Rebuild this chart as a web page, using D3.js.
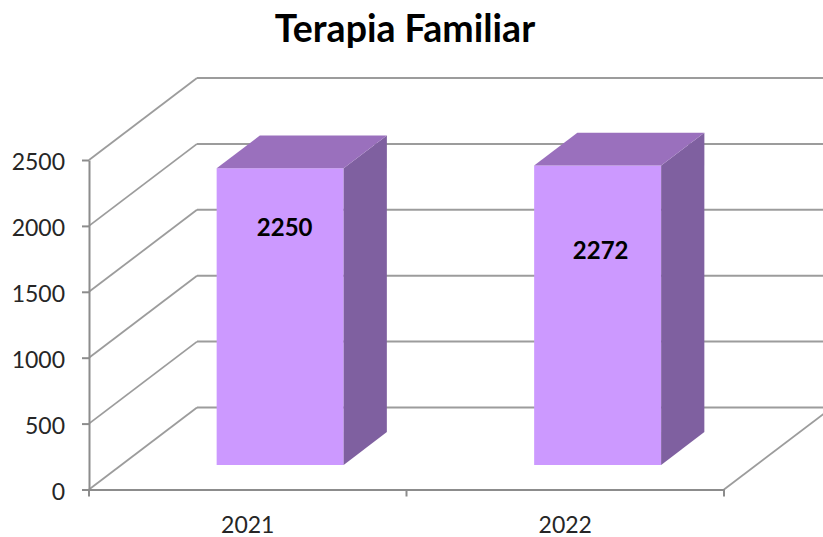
<!DOCTYPE html>
<html>
<head>
<meta charset="utf-8">
<title>Terapia Familiar</title>
<script src="https://cdn.jsdelivr.net/npm/d3@7"></script>
<style>
	body { margin: 0; background: #fff; }
	svg { display: block; font-family: Lato, sans-serif; }
</style>
</head>
<body>
<script>
// chart data
var chartTitle = "Terapia Familiar";
var years = ["2021", "2022"];
var values = [2250, 2272];
var yTicks = [0, 500, 1000, 1500, 2000, 2500];

// doc dimensions
var width = 823;
var height = 537;

// plot dimensions, front plane of the 3D box
var left = 89;
var right = 724;
var bottom = 489.5;
var top3d = 160;

// how far the back plane is shifted from the front plane
var depthX = 108;
var depthY = -82;

// bars sit in the middle of the floor depth
var barDepthStart = 0.3;
var barDepthEnd = 0.7;

// colors
var gridColor = "#9c9c9c";
var axisColor = "#8c8c8c";
var frontColor = "#cc99ff";
var sideColor = "#7f60a0";
var topColor = "#9a70bd";

var x = d3.scaleBand()
	.domain(years)
	.range([left, right])
	.paddingInner(0.6)
	.paddingOuter(0.3);

var xCategory = d3.scaleBand()
	.domain(years)
	.range([left, right]);

var y = d3.scaleLinear()
	.domain([0, 2500])
	.range([bottom, top3d]);

var svg = d3.select("body").append("svg")
	.attr("width", width)
	.attr("height", height)
	.attr("viewBox", "0 0 " + width + " " + height);

// title
svg.append("text")
	.attr("x", 405)
	.attr("y", 42)
	.attr("text-anchor", "middle")
	.attr("font-size", 37.5)
	.attr("font-weight", 700)
	.attr("fill", "#000")
	.text(chartTitle);

// back wall gridlines
svg.selectAll("line.back")
	.data(yTicks)
	.enter()
	.append("line")
	.attr("class", "back")
	.attr("x1", left + depthX)
	.attr("x2", right + depthX)
	.attr("y1", function(d) {return y(d) + depthY;})
	.attr("y2", function(d) {return y(d) + depthY;})
	.attr("stroke", gridColor)
	.attr("stroke-width", 2);

// side wall gridlines
svg.selectAll("line.side")
	.data(yTicks)
	.enter()
	.append("line")
	.attr("class", "side")
	.attr("x1", left)
	.attr("x2", left + depthX)
	.attr("y1", function(d) {return y(d);})
	.attr("y2", function(d) {return y(d) + depthY;})
	.attr("stroke", gridColor)
	.attr("stroke-width", 1.8);

// right edge of the floor
svg.append("line")
	.attr("x1", right)
	.attr("x2", right + depthX)
	.attr("y1", y(0))
	.attr("y2", y(0) + depthY)
	.attr("stroke", gridColor)
	.attr("stroke-width", 1.8);

// value axis
var yAxis = svg.append("g")
	.attr("transform", "translate(" + left + ",0)")
	.call(d3.axisLeft(y).tickValues(yTicks).tickFormat(d3.format("d")).tickSize(7).tickSizeOuter(0).tickPadding(17));

// category axis, labels only
var xAxis = svg.append("g")
	.attr("transform", "translate(0," + bottom + ")")
	.call(d3.axisBottom(xCategory).tickSize(0).tickPadding(27));

yAxis.selectAll("text").attr("font-family", "Lato").attr("font-size", 23).attr("fill", "#262626").attr("dy", "0.42em");
xAxis.selectAll("text").attr("font-family", "Lato").attr("font-size", 23).attr("fill", "#262626");
yAxis.selectAll("line, path").attr("stroke", axisColor).attr("stroke-width", 2);
xAxis.selectAll("line").remove();
xAxis.select("path").attr("stroke", axisColor).attr("stroke-width", 2);

// ticks at the edges of the categories
var edges = [left].concat(years.map(function(d) {return xCategory(d) + xCategory.bandwidth();}));
svg.selectAll("line.edge")
	.data(edges)
	.enter()
	.append("line")
	.attr("class", "edge")
	.attr("x1", function(d) {return d;})
	.attr("x2", function(d) {return d;})
	.attr("y1", bottom)
	.attr("y2", bottom + 7)
	.attr("stroke", axisColor)
	.attr("stroke-width", 2);

// returns the corner of a bar at the given depth (0 front, 1 back)
function corner(px, value, depth) {
	return [px + depthX * depth, y(value) + depthY * depth];
}

var bars = svg.selectAll("g.bar")
	.data(years)
	.enter()
	.append("g")
	.attr("class", "bar");

// front face
bars.append("path")
	.attr("fill", frontColor)
	.attr("d", function(d, i) {
		var x0 = x(d), x1 = x(d) + x.bandwidth();
		return d3.line()([
			corner(x0, 0, barDepthStart),
			corner(x1, 0, barDepthStart),
			corner(x1, values[i], barDepthStart),
			corner(x0, values[i], barDepthStart)
		]) + "Z";
	});

// side face
bars.append("path")
	.attr("fill", sideColor)
	.attr("d", function(d, i) {
		var x1 = x(d) + x.bandwidth();
		return d3.line()([
			corner(x1, 0, barDepthStart),
			corner(x1, 0, barDepthEnd),
			corner(x1, values[i], barDepthEnd),
			corner(x1, values[i], barDepthStart)
		]) + "Z";
	});

// top face
bars.append("path")
	.attr("fill", topColor)
	.attr("d", function(d, i) {
		var x0 = x(d), x1 = x(d) + x.bandwidth();
		return d3.line()([
			corner(x0, values[i], barDepthStart),
			corner(x1, values[i], barDepthStart),
			corner(x1, values[i], barDepthEnd),
			corner(x0, values[i], barDepthEnd)
		]) + "Z";
	});

// data labels were moved by hand in the original, so they are not centered
var labelShiftX = [4.5, 3];
var labelBaseline = [236, 259];

bars.append("text")
	.attr("x", function(d, i) {return x(d) + x.bandwidth() / 2 + depthX * barDepthStart + labelShiftX[i];})
	.attr("y", function(d, i) {return labelBaseline[i];})
	.attr("text-anchor", "middle")
	.attr("font-size", 24)
	.attr("font-weight", 700)
	.attr("fill", "#000")
	.text(function(d, i) {return values[i];});
</script>
</body>
</html>
